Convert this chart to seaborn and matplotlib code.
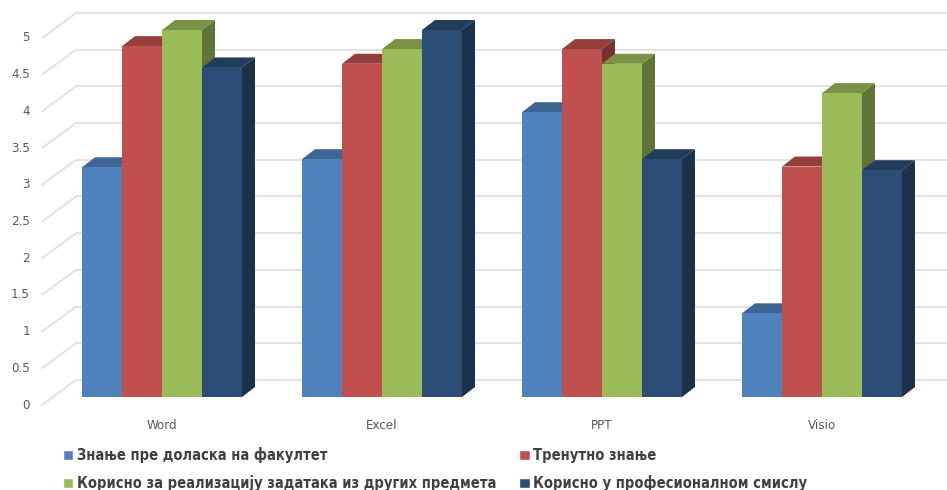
import numpy as np
import pandas as pd
import seaborn as sns
from matplotlib import pyplot as plt
from matplotlib.patches import Patch, Polygon
from matplotlib.colors import to_rgb

sns.set_style('white')
plt.rcParams['font.family'] = ['DejaVu Sans']

categories = ['Word', 'Excel', 'PPT', 'Visio']
series = ['Знање пре доласка на факултет',
          'Тренутно знање',
          'Корисно за реализацију задатака из других предмета',
          'Корисно у професионалном смислу']
before = [3.13, 3.24, 3.88, 1.14]
current = [4.78, 4.54, 4.74, 3.14]
useful_other = [5.0, 4.74, 4.54, 4.14]
professional = [4.49, 5.0, 3.24, 3.09]
colors = ['#4f81bd', '#c0504d', '#9bbb59', '#2c4d75']
yticks = [0, 0.5, 1, 1.5, 2, 2.5, 3, 3.5, 4, 4.5, 5]

df = pd.DataFrame({
    'app': categories * 4,
    'series': np.repeat(series, 4),
    'score': before + current + useful_other + professional,
})

W, H = 947, 490
fig = plt.figure(figsize=(W / 100, H / 100), dpi=100)

# pixel geometry of the fake 3d box (pixels from top-left)
x0_px, y0_px = 162, 397      # data (0, 0)
ppx, ppy = 220, 73.4         # pixels per data unit
ax_left, ax_top = 42, 5
ax = fig.add_axes([ax_left / W, (H - y0_px) / H, (W - ax_left) / W, (y0_px - ax_top) / H])

sns.barplot(data=df, x='app', y='score', hue='series', palette=colors,
            width=160 / ppx, saturation=1, linewidth=0, legend=False, ax=ax)
ax.set_xlim((ax_left - x0_px) / ppx, (W - x0_px) / ppx)
ax.set_ylim(0, (y0_px - ax_top) / ppy)


def shade(c, f):
    r, g, b = to_rgb(c)
    return (r * f, g * f, b * f)


# depth of a bar, and offsets of back wall / front plane
ddx, ddy = 13 / ppx, 10 / ppy
back_dy = 17 / ppy
front_dy = 8 / ppy
back_x = (76 - x0_px) / ppx
front_x = (ax_left - x0_px) / ppx

# back wall grid + floor diagonals
for v in yticks:
    ax.plot([back_x, ax.get_xlim()[1]], [v + back_dy, v + back_dy],
            color='#dedede', lw=1.2, zorder=1, clip_on=False, solid_capstyle='butt')
    ax.plot([front_x, back_x], [v - front_dy, v + back_dy],
            color='#dedede', lw=1.2, zorder=1, clip_on=False)
    ax.text(front_x - 12 / ppx, v - front_dy, f'{v:g}', ha='right', va='center',
            fontsize=9.5, color='#595959', fontstretch='condensed')

bars = sorted(ax.patches, key=lambda p: p.get_x())
for i, p in enumerate(bars):
    x, w, h = p.get_x(), p.get_width(), p.get_height()
    fc = p.get_facecolor()
    z = 3 + i * 0.01
    p.set_zorder(z + 0.005)
    top = Polygon([(x, h), (x + w, h), (x + w + ddx, h + ddy), (x + ddx, h + ddy)],
                  closed=True, facecolor=shade(fc, 0.78), lw=0, zorder=z, clip_on=False)
    side = Polygon([(x + w, 0), (x + w + ddx, ddy), (x + w + ddx, h + ddy), (x + w, h)],
                   closed=True, facecolor=shade(fc, 0.62), lw=0, zorder=z, clip_on=False)
    ax.add_patch(top)
    ax.add_patch(side)

for s in ax.spines.values():
    s.set_visible(False)
ax.set_xlabel('')
ax.set_ylabel('')
ax.set_yticks([])
ax.tick_params(axis='x', length=0, pad=15.5, labelsize=9.5, labelcolor='#595959')
for lab in ax.get_xticklabels():
    lab.set_fontstretch('condensed')
ax.grid(False)

handles = [Patch(facecolor=c, label=s) for c, s in zip(colors, series)]
order = [0, 2, 1, 3]
leg = fig.legend(handles=[handles[i] for i in order], ncol=2, loc='upper left',
                 bbox_to_anchor=(57 / W, 1 - 441 / H), frameon=False,
                 prop={'size': 10.5, 'weight': 'bold', 'stretch': 'condensed'},
                 handlelength=0.7, handleheight=0.7, handletextpad=0.25,
                 columnspacing=1.6, labelspacing=0.82, borderaxespad=0)
for t in leg.get_texts():
    t.set_color('#404040')

fig.savefig('out.png', dpi=100)
